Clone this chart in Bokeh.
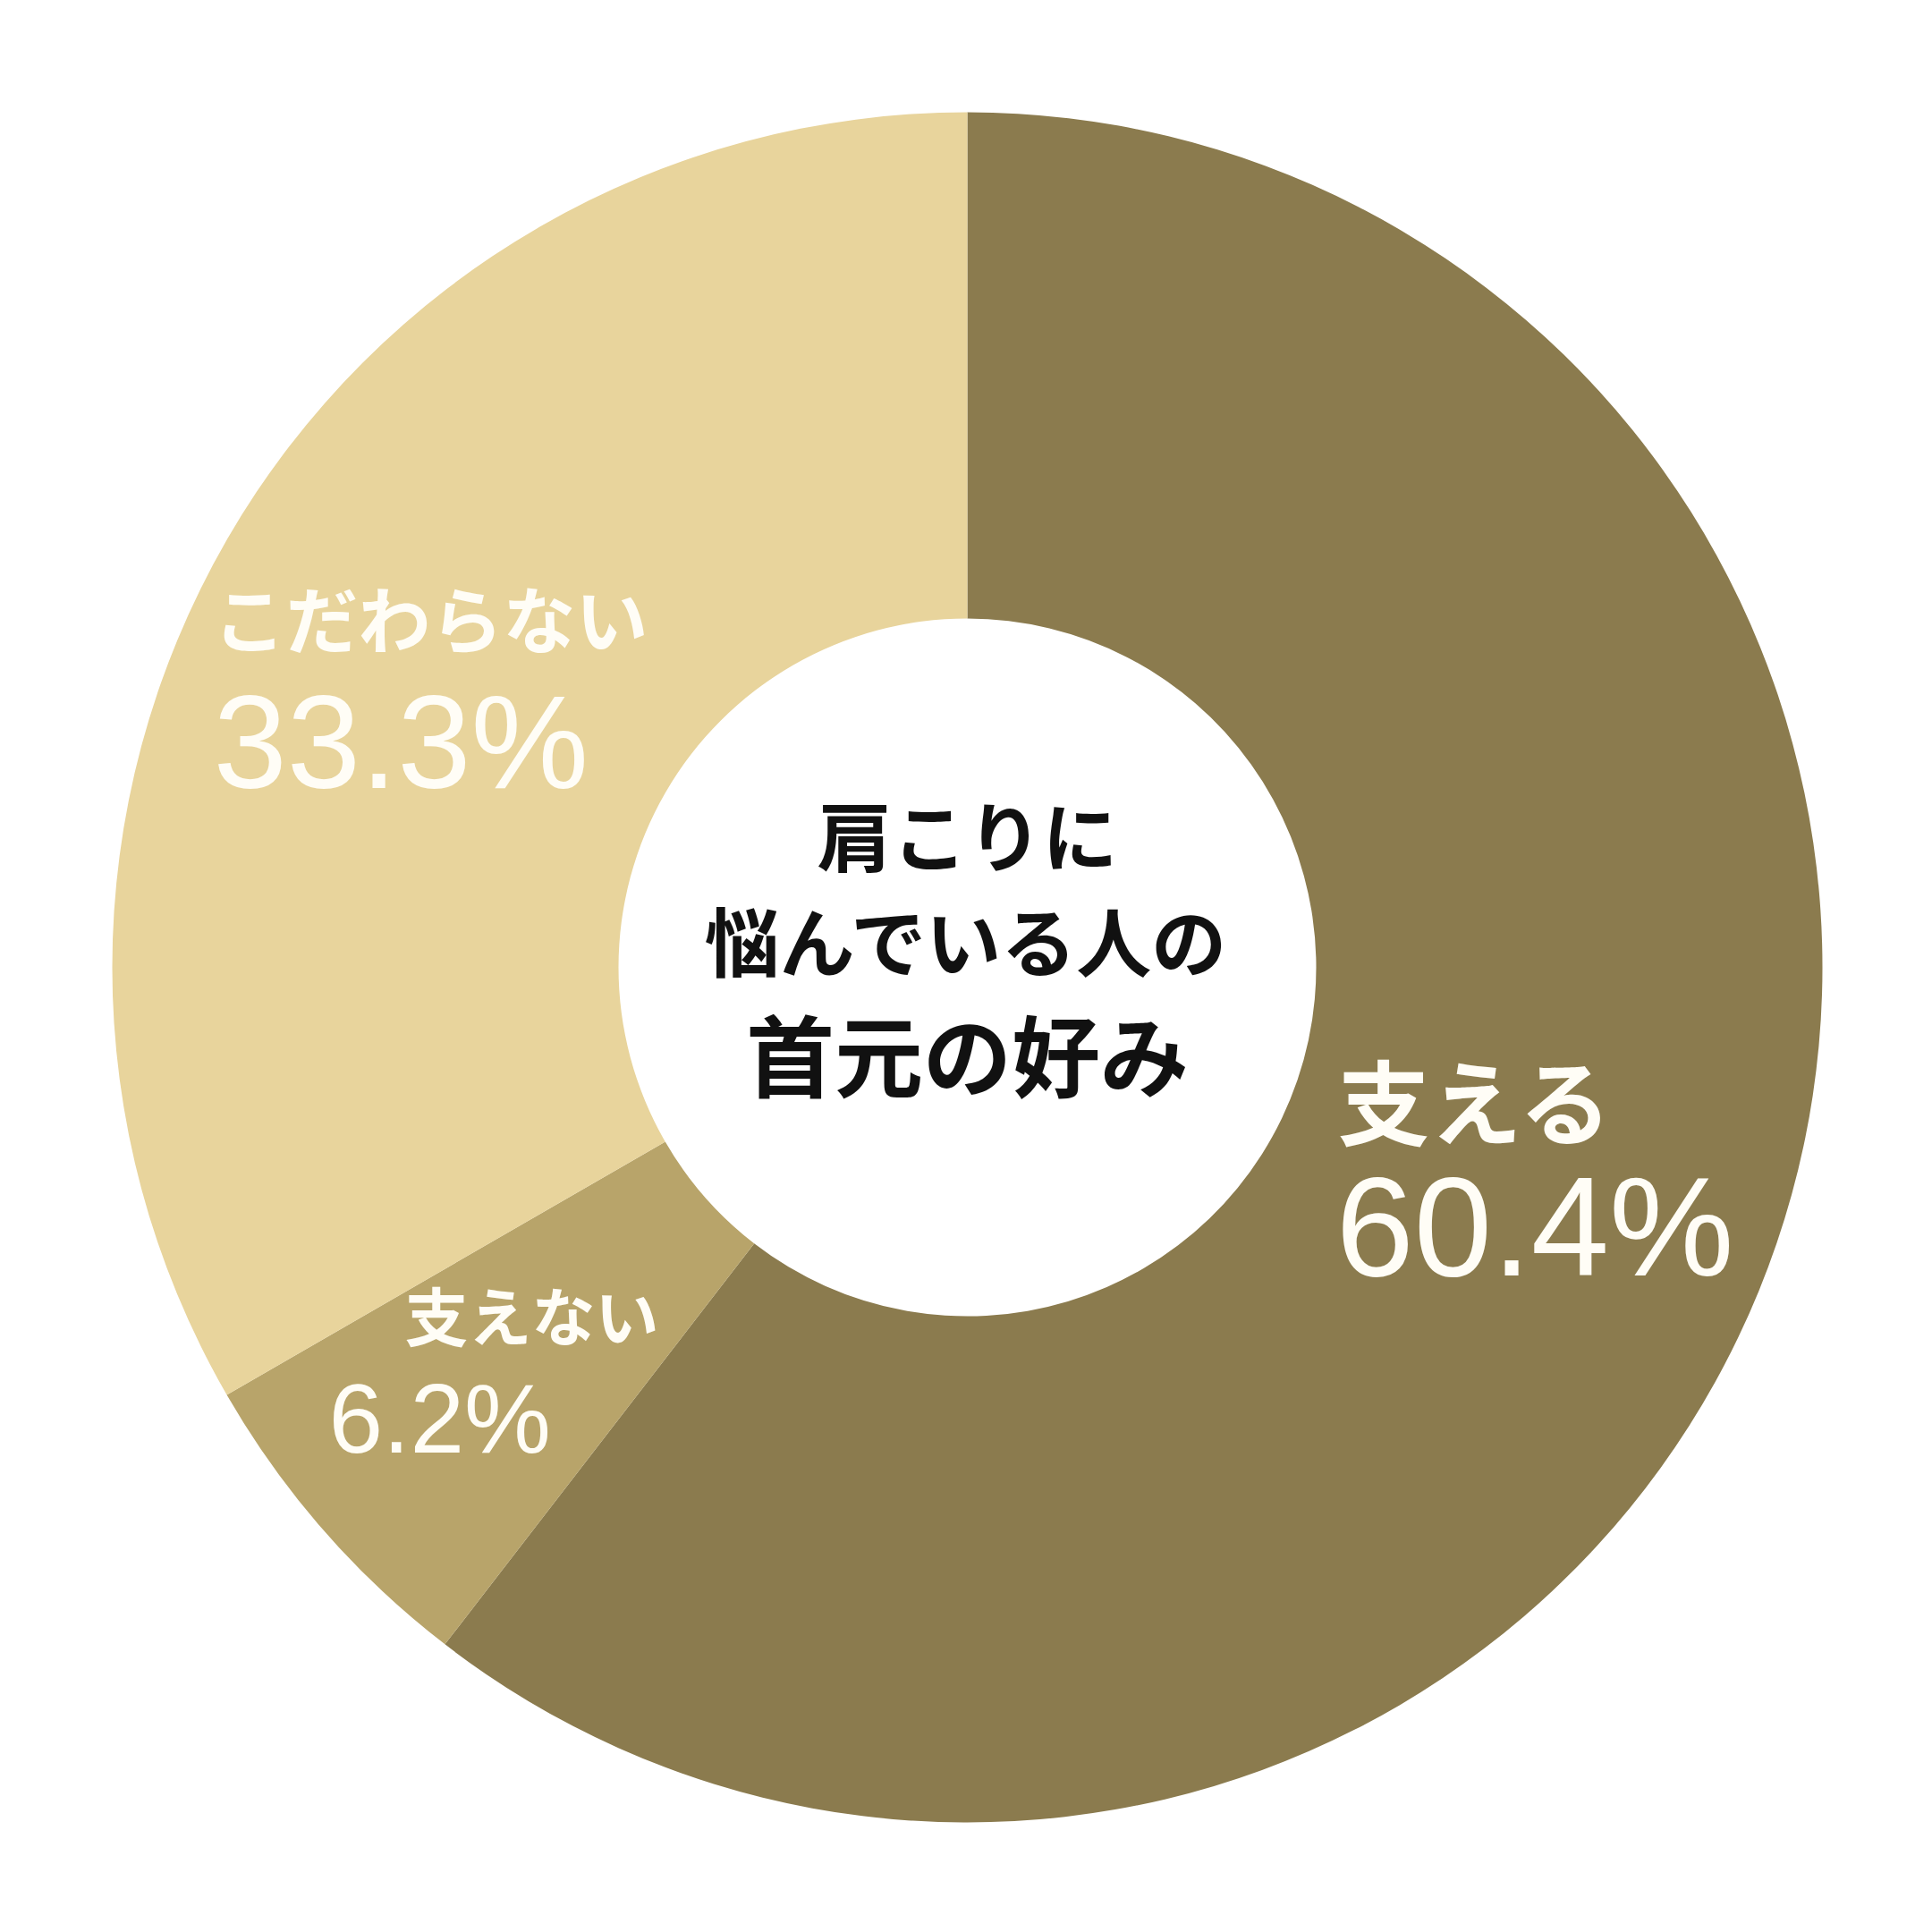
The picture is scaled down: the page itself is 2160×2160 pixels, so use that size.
import math
from bokeh.plotting import figure
from bokeh.models import Range1d
from bokeh.core.properties import value
from bokeh.embed import file_html
from bokeh.resources import INLINE

# ---- data ----
categories = ["支える", "支えない", "こだわらない"]
percents = [60.4, 6.2, 33.3]
pct_labels = ["60.4%", "6.2%", "33.3%"]
colors = ["#8B7B4E", "#B8A46A", "#E8D49C"]
center_lines = ["肩こりに", "悩んでいる人の", "首元の好み"]

# ---- layout (reference pixel space, y measured from top) ----
W = H = 2144
REF = 2160
CX, CY = 1081, 1081
R_OUT, R_IN = 956, 390

def fy(y_ref):
    return REF - y_ref

p = figure(width=W, height=H, output_backend="svg", toolbar_location=None,
           x_range=Range1d(0, W), y_range=Range1d(REF - H, REF),
           min_border=0, background_fill_color="white", border_fill_color="white")
p.axis.visible = False
p.grid.visible = False
p.outline_line_color = None

total = sum(percents)
starts, ends = [], []
acc = 0.0
for v in percents:
    starts.append(math.pi / 2 - acc / total * 2 * math.pi)
    acc += v
    ends.append(math.pi / 2 - acc / total * 2 * math.pi)

for s, e, c in zip(starts, ends, colors):
    p.annular_wedge(x=CX, y=fy(CY), inner_radius=R_IN, outer_radius=R_OUT,
                    start_angle=s, end_angle=e, direction="clock",
                    fill_color=c, line_color=None)

# category label layout: (x_left, y_center, font px)
cat_layout = [(1495, 1228, 103), (452, 1467, 71), (238, 688, 81)]
# percent label layout: (x_left, y_baseline, font px)
pct_layout = [(1493, 1428, 157), (367, 1625, 109), (238, 882, 148)]
TXT = "#FFFDF6"

for i, (lx, by_, ps) in enumerate(pct_layout):
    p.text(x=[lx], y=[fy(by_) + ps * 0.36], text=[pct_labels[i]], text_color=TXT,
           text_font=value("Liberation Sans"), text_font_size=value(f"{ps}px"),
           text_align="left", text_baseline="middle")

for i, (lx, cy_, cs) in enumerate(cat_layout):
    p.text(x=[lx], y=[fy(cy_)], text=[categories[i]], text_color=TXT,
           text_font=value("Noto Sans CJK JP"), text_font_size=value(f"{cs}px"),
           text_font_style="bold", text_align="left", text_baseline="middle")

center_layout = [(931, 84), (1049, 84), (1175, 99)]
for line, (yc, fs) in zip(center_lines, center_layout):
    p.text(x=[CX], y=[fy(yc)], text=[line], text_color="#111111",
           text_font=value("Noto Sans CJK JP"), text_font_size=value(f"{fs}px"),
           text_font_style="bold", text_align="center", text_baseline="middle")

open("out.html", "w").write(file_html(p, INLINE))
